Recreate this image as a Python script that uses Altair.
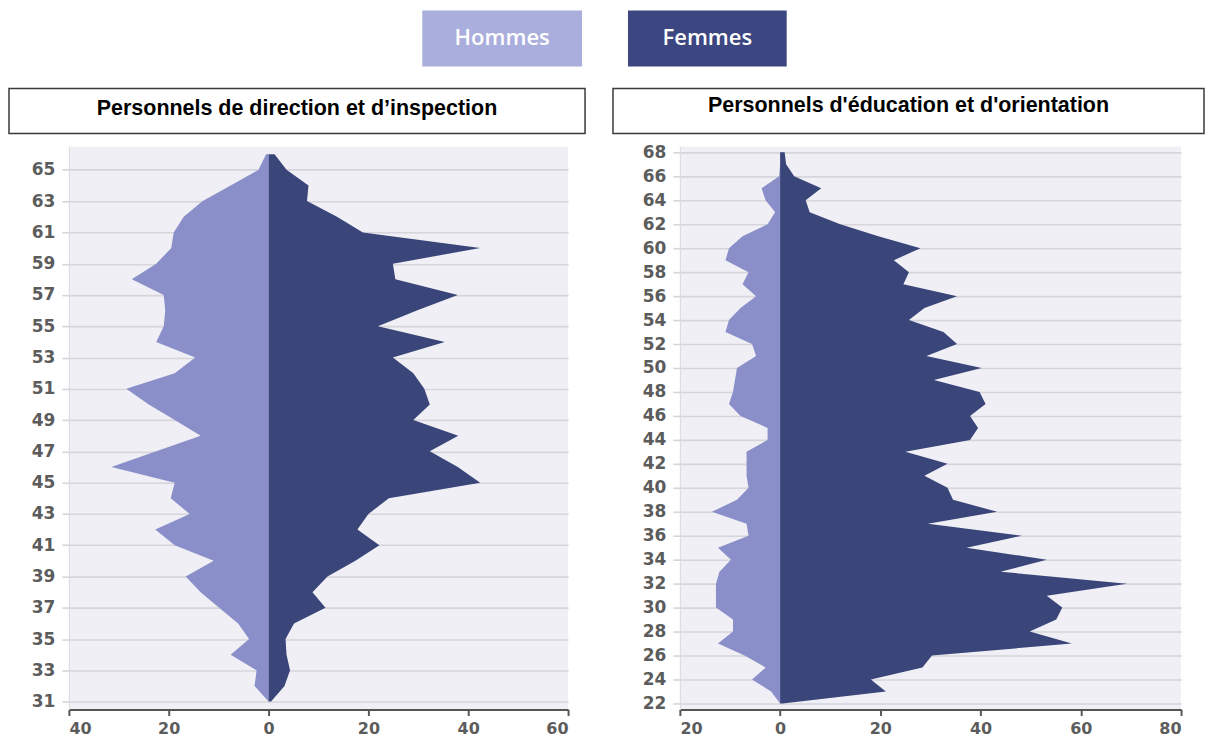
import altair as alt
import pandas as pd

# ---------------- data ----------------
series = ["Hommes", "Femmes"]

ages_dir = list(range(31, 67))
hommes_dir = [0, 2.8, 2.4, 7.6, 3.9, 6.1, 9.9, 13.6, 16.6, 11, 18.8, 22.7, 15.8, 19.6,
              18.8, 31.5, 22.5, 13.6, 18.8, 24, 28.5, 18.8, 14.7, 22.5, 21, 20.7, 21,
              27.4, 22.5, 19.5, 19, 17, 13.2, 7.6, 2, 0.5]
femmes_dir = [0.5, 3.2, 4.3, 3.6, 3.4, 5.1, 11.4, 8.8, 11.8, 17.4, 22.2, 17.8, 20, 24.1,
              42.4, 37.9, 32.3, 38, 29, 32.3, 31.2, 29, 24.9, 35.3, 21.9, 29.7, 37.9,
              25.4, 24.9, 42.4, 18.9, 13.7, 7.7, 8, 3.6, 1.2]

ages_edu = list(range(22, 69))
hommes_edu = [0, 1.8, 5.6, 2.9, 7.1, 12.4, 9.4, 9.4, 12.8, 12.8, 12.8, 12.1, 9.8, 12.4,
              6.3, 6.7, 13.6, 8.6, 6.3, 6.7, 6.7, 6.7, 2.5, 2.5, 7.9, 10.2, 9.4, 9, 8.6,
              4.8, 5.6, 10.9, 10.2, 7.9, 4.8, 7.5, 6.3, 10.9, 10.2, 7.5, 2.5, 1, 2.9,
              3.7, 0.2, 0, 0]
femmes_edu = [0.5, 21.1, 18.1, 28.4, 30.3, 58.2, 49.8, 55.1, 56.3, 53.2, 69.2, 44, 53.2,
              37.2, 48.2, 29.5, 43.3, 34.5, 33.4, 28.8, 33.4, 25, 37.9, 39.5, 37.9, 41,
              39.8, 30.7, 40.2, 29.2, 35.3, 32.6, 25.7, 28.8, 35.3, 24.6, 25.7, 22.7, 28,
              19.6, 12, 5.9, 5.1, 8.2, 2.8, 1.2, 0.9]

title_dir = "Personnels de direction et d’inspection"
title_edu = "Personnels d'éducation et d'orientation"

xticks_dir = [-40, -20, 0, 20, 40, 60]
xticks_edu = [-20, 0, 20, 40, 60, 80]
yticks_dir = list(range(31, 66, 2))
yticks_edu = list(range(22, 69, 2))

area_colors = ["#8a8fc9", "#3a4579"]
legend_colors = ["#aaaedd", "#3c4680"]

W_DIR, W_EDU, H = 500, 502, 564


def make_df(ages, h, f):
    rows = []
    for a, hv, fv in zip(ages, h, f):
        rows.append({"age": a, "sexe": series[0], "val": -hv})
        rows.append({"age": a, "sexe": series[1], "val": fv})
    return pd.DataFrame(rows)


def panel(df, xdom, xticks, ydom, yticks, width, title, tbox, ty, extra_layers):
    areas = alt.Chart(df).mark_area(orient="horizontal", interpolate="linear", opacity=1).encode(
        y=alt.Y("age:Q", title=None,
                scale=alt.Scale(domain=ydom, nice=False, zero=False),
                axis=alt.Axis(values=yticks, grid=True, gridColor="#d5d5db", gridWidth=1.6,
                              domain=True, domainColor="#dadade", domainWidth=1,
                              ticks=True, tickSize=7, tickColor="#d5d5db", tickWidth=1.6,
                              labelPadding=7, labelFont="DejaVu Sans", labelFontSize=17,
                              labelFontWeight="bold", labelColor="#5c5c5c")),
        x=alt.X("val:Q", title=None, stack=None,
                scale=alt.Scale(domain=xdom, nice=False, zero=False),
                axis=alt.Axis(values=xticks, grid=False, labelExpr="abs(datum.value)",
                              domainColor="#555555", domainWidth=2, tickColor="#555555",
                              tickWidth=2, tickSize=6, labelPadding=5,
                              labelFont="DejaVu Sans", labelFontSize=16,
                              labelFontWeight="bold", labelColor="#5c5c5c")),
        color=alt.Color("sexe:N", scale=alt.Scale(domain=series, range=area_colors), legend=None),
    )
    tdf = pd.DataFrame({"t": [title]})
    box = alt.Chart(tdf).mark_rect(fill="white", stroke="#3a3a3a", strokeWidth=1.5).encode(
        x=alt.value(tbox[0]), x2=alt.value(tbox[1]), y=alt.value(tbox[2]), y2=alt.value(tbox[3]))
    txt = alt.Chart(tdf).mark_text(font="Liberation Sans", fontWeight="bold", fontSize=21.5,
                                   color="black", align="center", baseline="middle").encode(
        x=alt.value((tbox[0] + tbox[1]) / 2), y=alt.value(ty), text="t:N")
    return alt.layer(areas, box, txt, *extra_layers).properties(width=width, height=H)


def legend_item(label, color, x0, x1):
    ldf = pd.DataFrame({"t": [label]})
    r = alt.Chart(ldf).mark_rect(fill=color).encode(
        x=alt.value(x0), x2=alt.value(x1), y=alt.value(-136), y2=alt.value(-80))
    t = alt.Chart(ldf).mark_text(font="Open Sans", fontWeight=600, fontSize=22,
                                 color="white", align="center", baseline="middle").encode(
        x=alt.value((x0 + x1) / 2), y=alt.value(-109), text="t:N")
    return [r, t]


left = panel(make_df(ages_dir, hommes_dir, femmes_dir), [-40, 60], xticks_dir,
             [30.5, 66.5], yticks_dir, W_DIR, title_dir, (-60, 517, -58, -13), -37,
             legend_item(series[0], legend_colors[0], 354, 514))
right = panel(make_df(ages_edu, hommes_edu, femmes_edu), [-20, 80], xticks_edu,
              [21.5, 68.5], yticks_edu, W_EDU, title_edu, (-67, 525, -58, -13), -40,
              legend_item(series[1], legend_colors[1], -52, 107))

chart = alt.hconcat(left, right, spacing=112, bounds="flush").properties(
    padding={"left": 0, "top": 2, "right": 0, "bottom": 0}
).configure_view(fill="#efeff5", stroke=None)

chart.save("out.html", embed_options={"renderer": "svg", "actions": False})
